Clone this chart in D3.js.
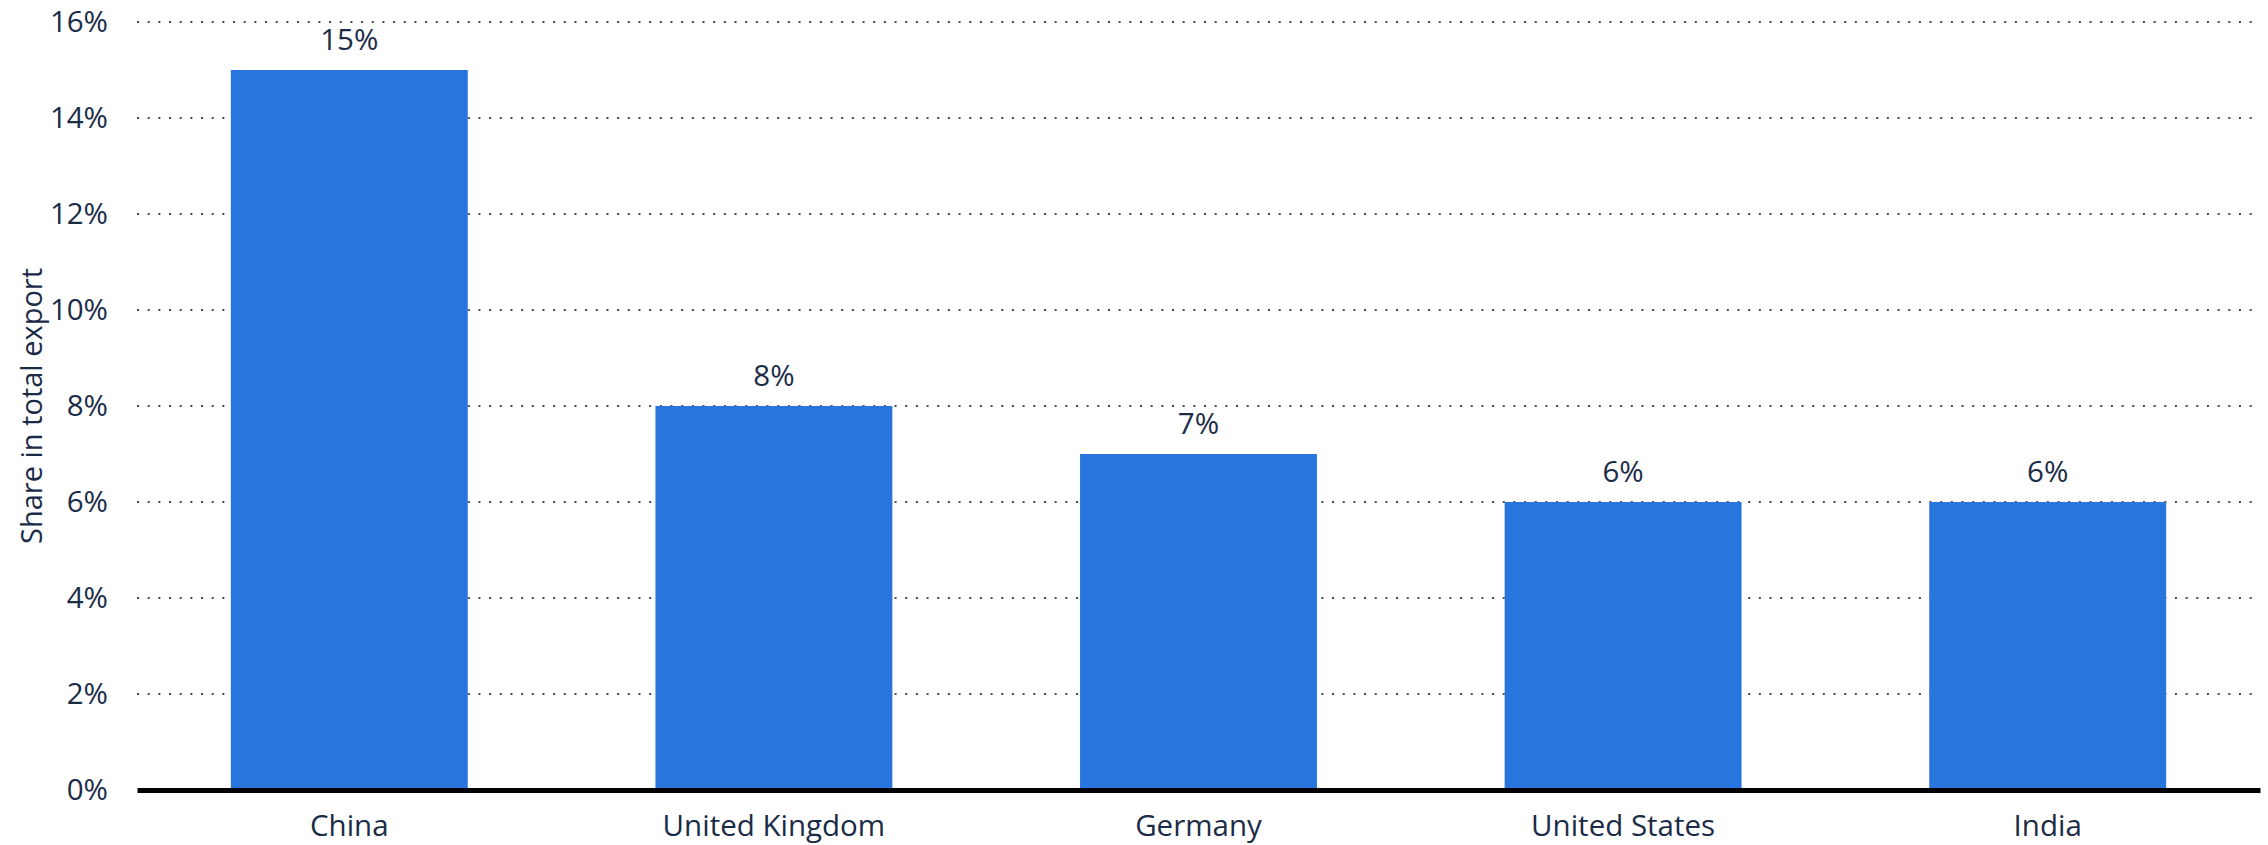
<!DOCTYPE html>
<html>
<head>
<meta charset="utf-8">
<script src="https://cdn.jsdelivr.net/npm/d3@7"></script>
<style>
  body { margin: 0; background: #fff; }
  text { font-family: "Open Sans", sans-serif; fill: #1b2c47; }
</style>
</head>
<body>
<div id="chart"></div>
<script>
const countries = ["China", "United Kingdom", "Germany", "United States", "India"];
const shares = [15, 8, 7, 6, 6];
const yTicks = [0, 2, 4, 6, 8, 10, 12, 14, 16];

const width = 2268, height = 845;
const margin = ({top: 22, right: 8, bottom: 55, left: 137});
const fontSize = "29.5px";

const svg = d3.select("#chart").append("svg")
  .attr("width", width).attr("height", height);

const x = d3.scaleBand()
  .domain(countries)
  .range([margin.left, width - margin.right])
  .paddingInner(0.442)
  .paddingOuter(0.221);

const y = d3.scaleLinear()
  .domain([0, 16])
  .range([height - margin.bottom, margin.top]);

// dotted grid lines
svg.append("g")
  .selectAll("line")
  .data(yTicks.filter(d => d > 0))
  .join("line")
    .attr("x1", margin.left)
    .attr("x2", width - 15)
    .attr("y1", d => y(d))
    .attr("y2", d => y(d))
    .attr("stroke", "#4a4a4a")
    .attr("stroke-width", 2)
    .attr("stroke-dasharray", "2,8.67");

// y axis labels
const yAxis = g => g
  .attr("transform", `translate(${margin.left},0)`)
  .call(d3.axisLeft(y).tickValues(yTicks).tickFormat(d => d + "%").tickSize(0).tickPadding(29))
  .call(g => g.select(".domain").remove())
  .call(g => g.selectAll("text")
      .style("font-size", fontSize)
      .style("font-family", "'Open Sans', sans-serif")
      .attr("fill", "#1b2c47"));
svg.append("g").call(yAxis);

// bars
svg.append("g")
  .attr("fill", "#2876dd")
  .selectAll("rect")
  .data(shares)
  .join("rect")
    .attr("x", (d, i) => x(countries[i]))
    .attr("y", d => y(d))
    .attr("width", x.bandwidth())
    .attr("height", d => y(0) - y(d));

// value labels
svg.append("g")
  .selectAll("text")
  .data(shares)
  .join("text")
    .attr("x", (d, i) => x(countries[i]) + x.bandwidth() / 2)
    .attr("y", d => y(d) - 20)
    .attr("text-anchor", "middle")
    .style("font-size", fontSize)
    .text(d => d + "%");

// x axis
const xAxis = g => g
  .attr("transform", `translate(0,${y(0)})`)
  .call(d3.axisBottom(x).tickSize(0).tickPadding(25))
  .call(g => g.select(".domain")
      .attr("stroke", "#000")
      .attr("stroke-width", 5))
  .call(g => g.selectAll("text")
      .style("font-size", fontSize)
      .style("font-family", "'Open Sans', sans-serif")
      .attr("fill", "#1b2c47"));
svg.append("g").call(xAxis);

// y axis title
svg.append("text")
  .attr("transform", `translate(42,${(y(0) + y(16)) / 2}) rotate(-90)`)
  .attr("text-anchor", "middle")
  .style("font-size", "29px")
  .text("Share in total export");
</script>
</body>
</html>
